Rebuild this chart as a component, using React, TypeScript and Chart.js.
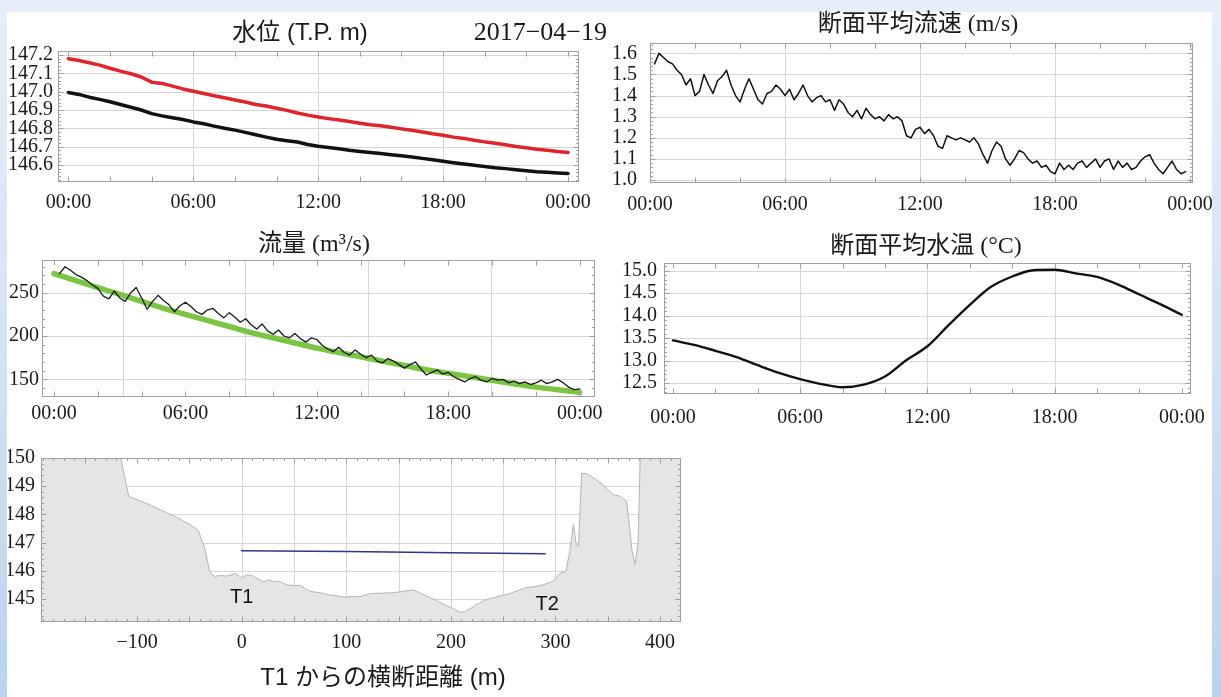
import React, { useEffect, useRef } from 'react';
import { Chart, registerables } from 'chart.js';

Chart.register(...registerables);

// ---------------- DATA ----------------
const dateText = '2017−04−19';
const titleLevel = '水位 (T.P. m)';
const titleVelocity = '断面平均流速 (m/s)';
const titleDischarge = '流量 (m³/s)';
const titleTemp = '断面平均水温 (°C)';
const titleSection = 'T1 からの横断距離 (m)';

const hourTicks = [0, 6, 12, 18, 24];

// 水位: every 0.5 h from 00:00
const levelStep = 0.5;
const levelT1 = [
  147.18, 147.17, 147.158, 147.145, 147.128, 147.112, 147.098, 147.08, 147.052, 147.045,
  147.03, 147.015, 147.002, 146.99, 146.978, 146.967, 146.955, 146.944, 146.93, 146.922,
  146.91, 146.898, 146.884, 146.872, 146.862, 146.853, 146.845, 146.837, 146.828, 146.82,
  146.814, 146.806, 146.797, 146.789, 146.78, 146.77, 146.762, 146.752, 146.745, 146.735,
  146.726, 146.718, 146.71, 146.701, 146.694, 146.686, 146.68, 146.673, 146.668,
];
const levelT2 = [
  146.995, 146.985, 146.97, 146.958, 146.945, 146.93, 146.915, 146.9, 146.88, 146.868,
  146.858, 146.848, 146.835, 146.825, 146.812, 146.8, 146.79, 146.778, 146.765, 146.752,
  146.74, 146.732, 146.725, 146.712, 146.702, 146.695, 146.688, 146.68, 146.674, 146.668,
  146.662, 146.656, 146.65, 146.643, 146.636, 146.628, 146.62, 146.612, 146.605, 146.598,
  146.592, 146.585, 146.58, 146.574, 146.568, 146.563, 146.56, 146.556, 146.553,
];
const levelYTicks = [146.6, 146.7, 146.8, 146.9, 147.0, 147.1, 147.2];

// 断面平均流速: every 0.2 h from 00:12
const velocityStart = 0.2;
const velocityStep = 0.2;
const velocity = [
  1.55, 1.6, 1.58, 1.56, 1.55, 1.52, 1.5, 1.45, 1.48, 1.4,
  1.42, 1.5, 1.45, 1.41, 1.47, 1.49, 1.52, 1.45, 1.4, 1.37,
  1.43, 1.48, 1.43, 1.38, 1.36, 1.41, 1.42, 1.45, 1.43, 1.4,
  1.43, 1.38, 1.41, 1.45, 1.4, 1.37, 1.39, 1.4, 1.37, 1.38,
  1.33, 1.38, 1.36, 1.32, 1.3, 1.33, 1.29, 1.34, 1.31, 1.29,
  1.3, 1.28, 1.31, 1.29, 1.3, 1.28, 1.21, 1.2, 1.24, 1.25,
  1.22, 1.24, 1.21, 1.16, 1.15, 1.21, 1.2, 1.19, 1.2, 1.19,
  1.18, 1.2, 1.17, 1.12, 1.08, 1.14, 1.18, 1.16, 1.1, 1.07,
  1.1, 1.14, 1.13, 1.1, 1.08, 1.09, 1.06, 1.07, 1.04, 1.03,
  1.08, 1.05, 1.07, 1.05, 1.08, 1.09, 1.06, 1.08, 1.1, 1.06,
  1.09, 1.1, 1.05, 1.09, 1.06, 1.08, 1.05, 1.06, 1.09, 1.11,
  1.12, 1.08, 1.05, 1.03, 1.06, 1.09, 1.05, 1.03, 1.04,
];
const velocityYTicks = [1.0, 1.1, 1.2, 1.3, 1.4, 1.5, 1.6];

// 流量: measured every 0.25 h, fitted every 1 h
const dischargeStart = 0.25;
const dischargeStep = 0.25;
const dischargeMeasured = [
  272, 280, 276, 271, 268, 264, 259, 255, 246, 243, 252, 244,
  240, 250, 256, 244, 231, 240, 247, 241, 236, 228, 235, 239,
  234, 228, 225, 230, 232, 226, 221, 227, 222, 216, 220, 213,
  208, 214, 206, 202, 207, 200, 198, 203, 197, 193, 198, 196,
  189, 185, 182, 187, 181, 178, 184, 179, 175, 178, 171, 169,
  174, 171, 167, 163, 167, 170, 162, 155, 158, 161, 156, 158,
  153, 150, 147, 151, 153, 149, 147, 151, 149, 150, 146, 148,
  145, 147, 144, 146, 149, 145, 147, 150, 146, 141, 138, 139,
];
const dischargeFitStep = 1;
const dischargeFit = [
  272, 264, 256, 248, 240, 232, 225, 218, 211, 204, 198, 192, 186,
  181, 176, 171, 166, 161, 157, 153, 149, 145, 141, 138, 135,
];
const dischargeYTicks = [150, 200, 250];
const dischargeXGrid = [3.15, 8.72, 14.34, 19.95];

// 断面平均水温: every 1 h
const tempStep = 1;
const temperature = [
  13.45, 13.35, 13.22, 13.08, 12.9, 12.73, 12.59, 12.48, 12.41, 12.47,
  12.65, 13.01, 13.32, 13.79, 14.24, 14.64, 14.87, 15.01, 15.02, 14.94,
  14.86, 14.69, 14.47, 14.25, 14.02,
];
const tempYTicks = [12.5, 13.0, 13.5, 14.0, 14.5, 15.0];

// 横断面
const terrainDist = [
  -200, -116, -108, -88, -61, -49, -41.5, -35, -30.5, -26, -20, -14, -6, -2, 0, 5, 11, 16,
  20.5, 26, 30, 35, 40, 43, 50, 56, 60, 65, 70, 75, 80, 84, 90, 95, 100, 106, 113, 118,
  123, 130, 138, 145, 151, 158, 164, 170, 177, 184, 190, 196, 202, 206, 209, 213, 217,
  224, 231, 238, 247, 253, 260, 266, 272, 280, 285, 290, 298, 304, 310, 314, 317, 320,
  322, 325, 330, 339, 347, 355, 362, 368, 371, 373, 376, 379, 381, 430,
];
const terrainElev = [
  151, 150.05, 148.64, 148.34, 147.87, 147.63, 147.43, 146.75, 145.95, 145.8, 145.83,
  145.81, 145.9, 145.8, 145.75, 145.86, 145.81, 145.7, 145.6, 145.68, 145.62, 145.63,
  145.55, 145.5, 145.47, 145.48, 145.38, 145.28, 145.24, 145.22, 145.17, 145.14, 145.12,
  145.08, 145.06, 145.09, 145.08, 145.14, 145.19, 145.2, 145.21, 145.22, 145.25, 145.29,
  145.32, 145.22, 145.1, 144.98, 144.87, 144.76, 144.66, 144.58, 144.52, 144.55, 144.62,
  144.78, 144.93, 145.02, 145.1, 145.15, 145.24, 145.32, 145.4, 145.44, 145.47, 145.52,
  145.63, 145.9, 145.99, 146.75, 147.64, 146.9, 146.87, 149.46, 149.44, 149.23, 149.0,
  148.7, 148.64, 148.46, 147.5, 146.75, 146.22, 147.0, 150.05, 151,
];
const waterDist = [0, 100, 200, 290];
const waterElev = [146.71, 146.68, 146.64, 146.6];
const sectionXTicks = [-100, 0, 100, 200, 300, 400];
const sectionYTicks = [145, 146, 147, 148, 149, 150];
const sectionXGrid = [0, 50, 100, 150, 200, 250, 300];
const sectionYGrid = [145, 146, 147, 148, 149];
const pointLabels = [
  { text: 'T1', x: 0, y: 145.05 },
  { text: 'T2', x: 292, y: 144.8 },
];

// ---------------- HELPERS ----------------
const range = (a: number, b: number, s: number) => {
  const out: number[] = [];
  for (let v = a; v <= b + 1e-9; v += s) out.push(Math.round(v * 10000) / 10000);
  return out;
};
const fmtHour = (v: number) => String(Math.round(v) % 24).padStart(2, '0') + ':00';
const fmt1 = (v: number) => v.toFixed(1);
const fmtInt = (v: number) => (v < 0 ? '−' + Math.abs(v) : String(v));

const SERIF = "'Liberation Serif', 'Times New Roman', serif";
const SERIF_CJK = "'Liberation Serif', 'Noto Sans CJK JP', serif";
const SANS_CJK = "'Liberation Sans', 'Noto Sans CJK JP', sans-serif";

type Spec = {
  canvas: { x: number; y: number; w: number; h: number };
  box: { l: number; t: number; r: number; b: number };
  xMin: number; xMax: number; yMin: number; yMax: number;
  xTicks: number[]; yTicks: number[];
  xFmt: (v: number) => string; yFmt: (v: number) => string;
  xPad: number; yPad: number;
  xGrid: number[]; yGrid: number[];
  xMajor: number[]; xMinor: number[]; yMajor: number[]; yMinor: number[];
  datasets: any[];
  labels?: { text: string; x: number; y: number }[];
};

function makeFramePlugin(spec: Spec) {
  return {
    id: 'panelFrame',
    beforeDatasetsDraw(chart: any) {
      const { ctx, chartArea: a, scales } = chart;
      const sx = scales.x, sy = scales.y;
      ctx.save();
      ctx.beginPath();
      ctx.rect(a.left, a.top, a.right - a.left, a.bottom - a.top);
      ctx.clip();
      ctx.strokeStyle = '#d6d6d6';
      ctx.lineWidth = 1;
      spec.xGrid.forEach((v) => {
        const p = Math.round(sx.getPixelForValue(v)) + 0.5;
        ctx.beginPath(); ctx.moveTo(p, a.top); ctx.lineTo(p, a.bottom); ctx.stroke();
      });
      spec.yGrid.forEach((v) => {
        const p = Math.round(sy.getPixelForValue(v)) + 0.5;
        ctx.beginPath(); ctx.moveTo(a.left, p); ctx.lineTo(a.right, p); ctx.stroke();
      });
      ctx.restore();
    },
    afterDatasetsDraw(chart: any) {
      const { ctx, chartArea: a, scales } = chart;
      const sx = scales.x, sy = scales.y;
      ctx.save();
      ctx.strokeStyle = '#a0a0a0';
      ctx.lineWidth = 1;
      const L = Math.round(a.left) + 0.5, R = Math.round(a.right) - 0.5;
      const T = Math.round(a.top) + 0.5, B = Math.round(a.bottom) - 0.5;
      const tick = (vals: number[], len: number, axis: 'x' | 'y') => {
        vals.forEach((v) => {
          if (axis === 'x') {
            const p = Math.round(sx.getPixelForValue(v)) + 0.5;
            if (p < L || p > R) return;
            ctx.beginPath(); ctx.moveTo(p, B); ctx.lineTo(p, B - len); ctx.stroke();
            ctx.beginPath(); ctx.moveTo(p, T); ctx.lineTo(p, T + len); ctx.stroke();
          } else {
            const p = Math.round(sy.getPixelForValue(v)) + 0.5;
            if (p < T || p > B) return;
            ctx.beginPath(); ctx.moveTo(L, p); ctx.lineTo(L + len, p); ctx.stroke();
            ctx.beginPath(); ctx.moveTo(R, p); ctx.lineTo(R - len, p); ctx.stroke();
          }
        });
      };
      tick(spec.xMinor, 2.5, 'x');
      tick(spec.xMajor, 5, 'x');
      tick(spec.yMinor, 2.5, 'y');
      tick(spec.yMajor, 5, 'y');
      ctx.strokeRect(L, T, R - L, B - T);
      if (spec.labels) {
        ctx.fillStyle = '#111';
        ctx.font = "20px 'Liberation Sans', Arial, sans-serif";
        ctx.textAlign = 'center';
        ctx.textBaseline = 'middle';
        spec.labels.forEach((lb) => {
          ctx.fillText(lb.text, sx.getPixelForValue(lb.x), sy.getPixelForValue(lb.y));
        });
      }
      ctx.restore();
    },
  };
}

function Panel({ spec }: { spec: Spec }) {
  const ref = useRef<HTMLCanvasElement>(null);
  useEffect(() => {
    const c = spec.canvas, b = spec.box;
    const tickFont = { family: SERIF, size: 20 };
    const chart = new Chart(ref.current as HTMLCanvasElement, {
      type: 'line',
      data: { datasets: spec.datasets },
      options: {
        animation: false,
        responsive: false,
        maintainAspectRatio: false,
        events: [],
        layout: { padding: { top: b.t - c.y, right: c.x + c.w - b.r, left: 0, bottom: 0 } },
        plugins: { legend: { display: false }, tooltip: { enabled: false }, title: { display: false } },
        scales: {
          x: {
            type: 'linear', min: spec.xMin, max: spec.xMax,
            grid: { display: false, drawTicks: false }, border: { display: false },
            afterBuildTicks: (s: any) => { s.ticks = spec.xTicks.map((v) => ({ value: v })); },
            afterFit: (s: any) => { s.height = c.y + c.h - b.b; s.paddingLeft = 0; s.paddingRight = 0; },
            ticks: {
              callback: (v: any) => spec.xFmt(Number(v)), font: tickFont, color: '#1a1a1a',
              padding: spec.xPad, maxRotation: 0, minRotation: 0, autoSkip: false,
            },
          },
          y: {
            type: 'linear', min: spec.yMin, max: spec.yMax,
            grid: { display: false, drawTicks: false }, border: { display: false },
            afterBuildTicks: (s: any) => { s.ticks = spec.yTicks.map((v) => ({ value: v })); },
            afterFit: (s: any) => { s.width = b.l - c.x; s.paddingTop = 0; s.paddingBottom = 0; },
            ticks: {
              callback: (v: any) => spec.yFmt(Number(v)), font: tickFont, color: '#1a1a1a',
              padding: spec.yPad, autoSkip: false,
            },
          },
        },
      } as any,
      plugins: [makeFramePlugin(spec) as any],
    });
    return () => chart.destroy();
  }, [spec]);
  const c = spec.canvas;
  return (
    <canvas
      ref={ref}
      width={c.w}
      height={c.h}
      style={{ position: 'absolute', left: c.x, top: c.y, width: c.w, height: c.h }}
    />
  );
}

const series = (vals: number[], start: number, step: number) =>
  vals.map((v, i) => ({ x: start + i * step, y: v }));
const pairs = (xs: number[], ys: number[]) => xs.map((x, i) => ({ x, y: ys[i] }));

const line = (data: any[], color: string, width: number, extra: any = {}) => ({
  data, borderColor: color, borderWidth: width, pointRadius: 0, fill: false,
  tension: 0, borderJoinStyle: 'round', borderCapStyle: 'round', ...extra,
});

const specLevel: Spec = {
  canvas: { x: 8, y: 40, w: 600, h: 190 },
  box: { l: 58, t: 51, r: 579, b: 182 },
  xMin: -0.5, xMax: 24.53, yMin: 146.507, yMax: 147.222,
  xTicks: hourTicks, yTicks: levelYTicks, xFmt: fmtHour, yFmt: fmt1, xPad: 9, yPad: 5,
  xGrid: [6, 12, 18], yGrid: levelYTicks,
  xMajor: range(0, 24, 2), xMinor: [], yMajor: range(146.5, 147.2, 0.1), yMinor: range(146.52, 147.22, 0.02),
  datasets: [
    line(series(levelT1, 0, levelStep), '#e0242c', 3.5),
    line(series(levelT2, 0, levelStep), '#111111', 3.5),
  ],
};

const specVelocity: Spec = {
  canvas: { x: 605, y: 30, w: 615, h: 200 },
  box: { l: 650, t: 43, r: 1193, b: 183 },
  xMin: 0, xMax: 24.13, yMin: 0.986, yMax: 1.649,
  xTicks: hourTicks, yTicks: velocityYTicks, xFmt: fmtHour, yFmt: fmt1, xPad: 10, yPad: 13,
  xGrid: [6, 12, 18], yGrid: velocityYTicks,
  xMajor: range(0, 24, 2), xMinor: [], yMajor: range(1.0, 1.6, 0.1), yMinor: range(1.0, 1.64, 0.02),
  datasets: [line(series(velocity, velocityStart, velocityStep), '#111111', 1.5)],
};

const specDischarge: Spec = {
  canvas: { x: 8, y: 248, w: 600, h: 190 },
  box: { l: 42, t: 260, r: 595, b: 397 },
  xMin: -0.55, xMax: 24.7, yMin: 129.6, yMax: 287.8,
  xTicks: hourTicks, yTicks: dischargeYTicks, xFmt: fmtHour, yFmt: fmtInt, xPad: 5, yPad: 3,
  xGrid: dischargeXGrid, yGrid: dischargeYTicks,
  xMajor: range(0, 24, 2), xMinor: [], yMajor: dischargeYTicks, yMinor: range(130, 280, 10),
  datasets: [
    line(series(dischargeMeasured, dischargeStart, dischargeStep), '#1a1a1a', 1.3),
    line(series(dischargeFit, 0, dischargeFitStep), '#7cc444', 5.5, { cubicInterpolationMode: 'monotone' }),
  ],
};

const specTemp: Spec = {
  canvas: { x: 605, y: 250, w: 615, h: 190 },
  box: { l: 664, t: 263, r: 1191, b: 394 },
  xMin: -0.42, xMax: 24.43, yMin: 12.26, yMax: 15.17,
  xTicks: hourTicks, yTicks: tempYTicks, xFmt: fmtHour, yFmt: fmt1, xPad: 12, yPad: 7,
  xGrid: [6, 12, 18], yGrid: tempYTicks,
  xMajor: range(0, 24, 2), xMinor: [], yMajor: tempYTicks, yMinor: range(12.3, 15.1, 0.1),
  datasets: [line(series(temperature, 0, tempStep), '#111111', 2.4, { cubicInterpolationMode: 'monotone' })],
};

const specSection: Spec = {
  canvas: { x: 8, y: 445, w: 700, h: 225 },
  box: { l: 41, t: 458, r: 681, b: 622 },
  xMin: -191.9, xMax: 420, yMin: 144.18, yMax: 150,
  xTicks: sectionXTicks, yTicks: sectionYTicks, xFmt: fmtInt, yFmt: fmtInt, xPad: 9, yPad: 6,
  xGrid: sectionXGrid, yGrid: sectionYGrid,
  xMajor: range(-150, 400, 50), xMinor: range(-190, 420, 10), yMajor: sectionYTicks, yMinor: range(144.2, 150, 0.2),
  datasets: [
    line(pairs(waterDist, waterElev), '#34348c', 1.6),
    line(pairs(terrainDist, terrainElev), '#b4b4b4', 1, { fill: 'start', backgroundColor: '#e5e5e5' }),
  ],
  labels: pointLabels,
};

const textStyle = (cx: number, cy: number, size: number, family: string): React.CSSProperties => ({
  position: 'absolute', left: cx - 250, width: 500, top: cy - size / 2, height: size,
  lineHeight: size + 'px', fontSize: size, fontFamily: family, textAlign: 'center',
  color: '#1a1a1a', whiteSpace: 'nowrap',
});

export default function App() {
  return (
    <div
      style={{
        position: 'absolute', left: 0, top: 0, width: 1221, height: 697, overflow: 'hidden',
        background: 'linear-gradient(to bottom, #e7eff9 0%, #d3e3f4 50%, #b9d4ee 100%)',
      }}
    >
      <div style={{ position: 'absolute', left: 7, top: 12, width: 1205, height: 685, background: '#ffffff' }} />
      <Panel spec={specLevel} />
      <Panel spec={specVelocity} />
      <Panel spec={specDischarge} />
      <Panel spec={specTemp} />
      <Panel spec={specSection} />
      <div style={textStyle(300, 32, 24, SANS_CJK)}>{titleLevel}</div>
      <div style={{ ...textStyle(0, 32, 26, SERIF), left: 357, width: 250, textAlign: 'right' }}>{dateText}</div>
      <div style={textStyle(918, 23, 24, SERIF_CJK)}>{titleVelocity}</div>
      <div style={textStyle(314, 243, 24, SERIF_CJK)}>{titleDischarge}</div>
      <div style={textStyle(926, 245, 24, SERIF_CJK)}>{titleTemp}</div>
      <div style={textStyle(383, 677, 24, SANS_CJK)}>{titleSection}</div>
    </div>
  );
}
